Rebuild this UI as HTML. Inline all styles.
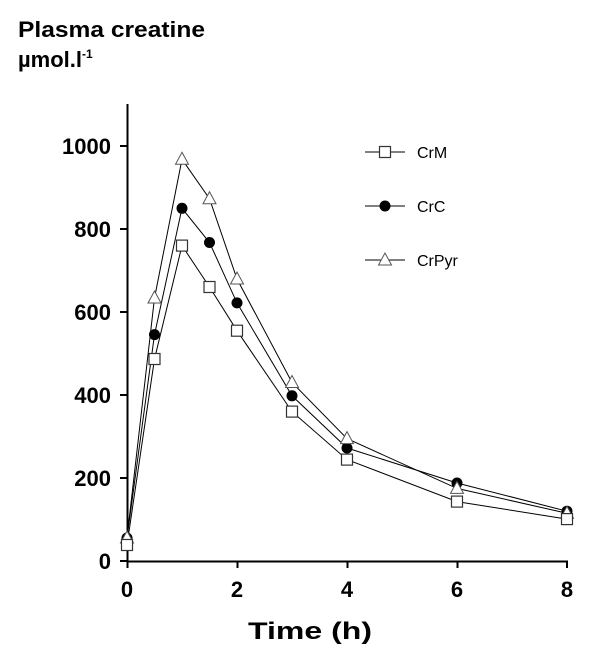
<!DOCTYPE html>
<html><head><style>body{margin:0;background:#fff}</style></head><body>
<svg width="600" height="664" xmlns="http://www.w3.org/2000/svg" font-family="Liberation Sans, Arial, sans-serif" font-weight="bold">
<text x="18" y="37" font-size="22" textLength="187" lengthAdjust="spacingAndGlyphs">Plasma creatine</text>
<text x="18" y="67" font-size="22">µmol.l<tspan font-size="12" dy="-9">-1</tspan></text>
<g stroke="#000" stroke-width="2" fill="none">
<line x1="127.5" y1="104" x2="127.5" y2="562"/>
<line x1="127" y1="561.5" x2="568" y2="561.5"/>
<line x1="120" y1="146" x2="127" y2="146"/>
<line x1="120" y1="229" x2="127" y2="229"/>
<line x1="120" y1="312" x2="127" y2="312"/>
<line x1="120" y1="395" x2="127" y2="395"/>
<line x1="120" y1="478" x2="127" y2="478"/>
<line x1="120" y1="561" x2="127" y2="561"/>
<line x1="127.5" y1="561" x2="127.5" y2="568"/>
<line x1="237.5" y1="561" x2="237.5" y2="568"/>
<line x1="347.5" y1="561" x2="347.5" y2="568"/>
<line x1="457.5" y1="561" x2="457.5" y2="568"/>
<line x1="567" y1="561" x2="567" y2="568"/>
</g>
<g font-size="22" text-anchor="end">
<text x="111" y="154">1000</text><text x="111" y="237">800</text><text x="111" y="320">600</text>
<text x="111" y="403">400</text><text x="111" y="486">200</text><text x="111" y="569">0</text>
</g>
<g font-size="22" text-anchor="middle">
<text x="127" y="597">0</text><text x="237" y="597">2</text><text x="347" y="597">4</text><text x="457" y="597">6</text><text x="567" y="597">8</text>
<text x="310" y="639" font-size="24" textLength="124" lengthAdjust="spacingAndGlyphs">Time (h)</text>
</g>
<g stroke="#000" stroke-width="1" fill="none">
<polyline points="127,545 154.5,359 182,245.6 209.5,287 237,330.7 292,411.6 347,459.6 457,501.6 567,519.1"/>
<polyline points="127,538 154.5,334.6 182,208.3 209.5,242.5 237,302.9 292,395.8 347,448 457,483 567,511.2"/>
<polyline points="127,538 154.5,298 182,159.3 209.5,198.7 237,279 292,382.5 347,438.6 457,488.4 567,513.3"/>
<line x1="365" y1="152" x2="405" y2="152"/><line x1="365" y1="206" x2="405" y2="206"/><line x1="365" y1="260" x2="405" y2="260"/>
</g>
<defs>
<rect id="s" x="-5.5" y="-5.5" width="11" height="11" fill="#fff" stroke="#333" stroke-width="1.2"/>
<circle id="c" r="5.5" fill="#000"/>
<polygon id="t" points="0,-7 6.5,5 -6.5,5" fill="#fff" stroke="#555" stroke-width="1"/>
</defs>
<g>
<use href="#c" x="127" y="538"/><use href="#c" x="154.5" y="334.6"/><use href="#c" x="182" y="208.3"/><use href="#c" x="209.5" y="242.5"/><use href="#c" x="237" y="302.9"/><use href="#c" x="292" y="395.8"/><use href="#c" x="347" y="448"/><use href="#c" x="457" y="483"/><use href="#c" x="567" y="511.2"/>
<use href="#t" x="127" y="538"/><use href="#t" x="154.5" y="298"/><use href="#t" x="182" y="159.3"/><use href="#t" x="209.5" y="198.7"/><use href="#t" x="237" y="279"/><use href="#t" x="292" y="382.5"/><use href="#t" x="347" y="438.6"/><use href="#t" x="457" y="488.4"/><use href="#t" x="567" y="513.3"/>
<use href="#s" x="127" y="545"/><use href="#s" x="154.5" y="359"/><use href="#s" x="182" y="245.6"/><use href="#s" x="209.5" y="287"/><use href="#s" x="237" y="330.7"/><use href="#s" x="292" y="411.6"/><use href="#s" x="347" y="459.6"/><use href="#s" x="457" y="501.6"/><use href="#s" x="567" y="519.1"/>
<use href="#s" x="385" y="152"/><use href="#c" x="385" y="206"/><use href="#t" x="385" y="260"/>
</g>
<g font-size="16" font-weight="normal">
<text x="417" y="158">CrM</text><text x="417" y="212">CrC</text><text x="417" y="266">CrPyr</text>
</g>
</svg>
</body></html>
